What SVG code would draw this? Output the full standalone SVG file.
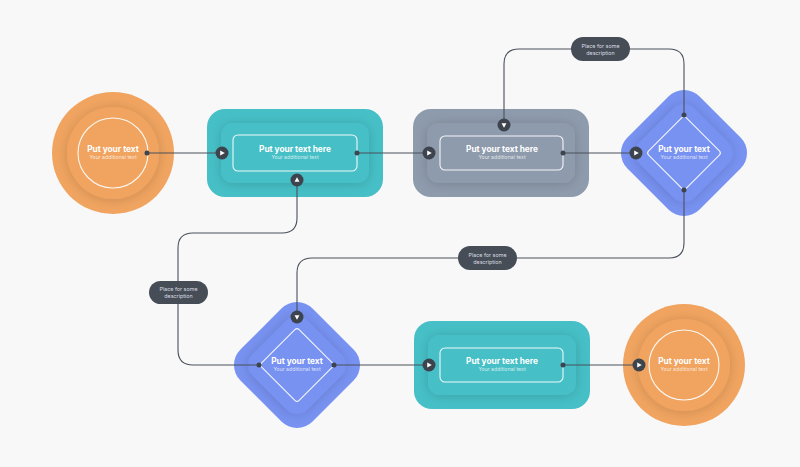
<svg xmlns="http://www.w3.org/2000/svg" width="800" height="467" viewBox="0 0 800 467">
<defs>
<filter id="raise" x="-40%" y="-40%" width="180%" height="180%">
<feGaussianBlur in="SourceAlpha" stdDeviation="6"/>
<feOffset dy="1"/>
<feComponentTransfer><feFuncA type="linear" slope="0.16"/></feComponentTransfer>
<feMerge><feMergeNode/><feMergeNode in="SourceGraphic"/></feMerge>
</filter>
<marker id="play" viewBox="0 0 16 16" refX="8" refY="8" markerWidth="16" markerHeight="16" markerUnits="userSpaceOnUse" orient="auto">
<circle cx="8" cy="8" r="6.5" fill="#3d444d"/>
<path d="M6.2,5.5 L10.8,8 L6.2,10.5 Z" fill="#ffffff"/>
</marker>
<marker id="dot" viewBox="0 0 6 6" refX="3" refY="3" markerWidth="6" markerHeight="6" markerUnits="userSpaceOnUse" orient="auto">
<circle cx="3" cy="3" r="2.5" fill="#3d444d"/>
</marker>
</defs>
<style>
.title{font-family:Inter,"Open Sans","Liberation Sans",sans-serif;font-weight:700;font-size:8.3px;fill:#ffffff;text-anchor:middle}
.sub{font-family:Inter,"Open Sans","Liberation Sans",sans-serif;font-size:5.2px;fill:#ffffff;fill-opacity:0.75;text-anchor:middle}
.outline{fill:none;stroke:#ffffff;stroke-width:1.1;stroke-opacity:0.9}
.orange{fill:#f0a460}
.teal{fill:#46bfc6}
.gray{fill:#8e9bac}
.blue{fill:#7892f1}
.raise{filter:url(#raise)}
.wire{fill:none;stroke:#4a515b;stroke-width:1.1;marker-start:url(#dot);marker-end:url(#play)}
.pill{fill:#464d57}
.ptext{font-family:Inter,"Open Sans","Liberation Sans",sans-serif;font-size:5.4px;fill:#d9dde2;text-anchor:middle}
</style>
<rect width="800" height="467" fill="#f8f8f9"/>

<g id="node-start">
<circle cx="113" cy="153" r="61" class="orange"/>
<circle cx="113" cy="153" r="46" class="orange raise"/>
<circle cx="113" cy="153" r="35" class="outline"/>
<text x="113" y="152" class="title">Put your text</text>
<text x="113" y="159" class="sub">Your additional text</text>
</g>

<g id="node-step1">
<rect x="207" y="109" width="176" height="88" rx="18" class="teal"/>
<rect x="221" y="123" width="148" height="60" rx="12" class="teal raise"/>
<rect x="233" y="135" width="124" height="36" rx="5" class="outline"/>
<text x="295" y="152" class="title">Put your text here</text>
<text x="295" y="159" class="sub">Your additional text</text>
</g>

<g id="node-step2">
<rect x="413" y="109" width="176" height="88" rx="18" class="gray"/>
<rect x="427" y="123" width="148" height="60" rx="12" class="gray raise"/>
<rect x="440" y="136" width="123" height="34" rx="5" class="outline"/>
<text x="502" y="152" class="title">Put your text here</text>
<text x="502" y="159" class="sub">Your additional text</text>
</g>

<g id="node-decision1">
<rect x="-51" y="-51" width="102" height="102" rx="22" transform="translate(684,153) rotate(45)" class="blue"/>
<rect x="-39" y="-39" width="78" height="78" rx="16" transform="translate(684,153) rotate(45)" class="blue raise"/>
<rect x="-26.5" y="-26.5" width="53" height="53" rx="3" transform="translate(684,153) rotate(45)" class="outline"/>
<text x="684" y="152" class="title">Put your text</text>
<text x="684" y="159" class="sub">Your additional text</text>
</g>

<g id="node-decision2">
<rect x="-51" y="-51" width="102" height="102" rx="22" transform="translate(297,365) rotate(45)" class="blue"/>
<rect x="-39" y="-39" width="78" height="78" rx="16" transform="translate(297,365) rotate(45)" class="blue raise"/>
<rect x="-26.5" y="-26.5" width="53" height="53" rx="3" transform="translate(297,365) rotate(45)" class="outline"/>
<text x="297" y="364" class="title">Put your text</text>
<text x="297" y="371" class="sub">Your additional text</text>
</g>

<g id="node-step3">
<rect x="414" y="321" width="176" height="88" rx="18" class="teal"/>
<rect x="428" y="335" width="148" height="60" rx="12" class="teal raise"/>
<rect x="440" y="348" width="123" height="34" rx="5" class="outline"/>
<text x="502" y="364" class="title">Put your text here</text>
<text x="502" y="371" class="sub">Your additional text</text>
</g>

<g id="node-end">
<circle cx="684" cy="365" r="61" class="orange"/>
<circle cx="684" cy="365" r="46" class="orange raise"/>
<circle cx="684" cy="365" r="35" class="outline"/>
<text x="684" y="364" class="title">Put your text</text>
<text x="684" y="371" class="sub">Your additional text</text>
</g>

<g id="connectors">
<path class="wire" d="M147,153 H222"/>
<path class="wire" d="M357,153 H429"/>
<path class="wire" d="M563,153 H636"/>
<path class="wire" d="M684,115 V64 Q684,49 669,49 H519 Q504,49 504,64 V125"/>
<path class="wire" d="M684,190 V243 Q684,258 669,258 H312 Q297,258 297,273 V317"/>
<path class="wire" d="M259,365 H193 Q178,365 178,350 V248 Q178,233 193,233 H282 Q297,233 297,218 V180"/>
<path class="wire" d="M334,365 H429"/>
<path class="wire" d="M563,365 H639"/>
<g id="label-top">
<rect x="571" y="37" width="59" height="24" rx="12" class="pill"/>
<text x="600.5" y="47.5" class="ptext">Place for some</text>
<text x="600.5" y="54.5" class="ptext">description</text>
</g>
<g id="label-right">
<rect x="458" y="246" width="59" height="24" rx="12" class="pill"/>
<text x="487.5" y="256.5" class="ptext">Place for some</text>
<text x="487.5" y="263.5" class="ptext">description</text>
</g>
<g id="label-left">
<rect x="149" y="281" width="59" height="23" rx="11.5" class="pill"/>
<text x="178.5" y="291" class="ptext">Place for some</text>
<text x="178.5" y="298" class="ptext">description</text>
</g>
</g>
</svg>
